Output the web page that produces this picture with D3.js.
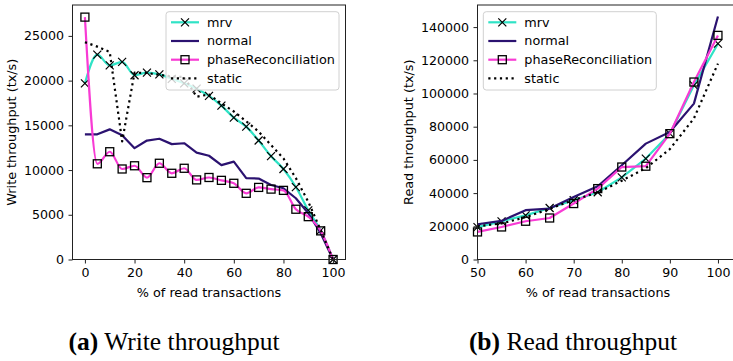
<!DOCTYPE html>
<html>
<head>
<meta charset="utf-8">
<script src="https://cdn.jsdelivr.net/npm/d3@7"></script>
<style>
  html, body { margin: 0; padding: 0; background: #fff; }
  svg { display: block; }
  .tick text { font-family: "DejaVu Sans", sans-serif; font-size: 12.6px; fill: #000; }
</style>
</head>
<body>
<svg id="chart" width="733" height="361"></svg>
<script>
// ---------- data ----------
const seriesNames = ["mrv", "normal", "phaseReconciliation", "static"];

const writeX = [0,5,10,15,20,25,30,35,40,45,50,55,60,65,70,75,80,85,90,95,100];
const writeMrv = [19700,22900,21700,22100,20600,20900,20700,20200,19700,19100,18300,17200,15860,14850,13300,11550,10120,8100,5500,3250,0];
const writeNormal = [14000,14000,14550,13900,12450,13300,13500,12900,13000,11950,11600,10550,10940,9100,9050,8330,7960,6850,5170,2930,0];
const writePhase = [27100,10700,12050,10120,10480,9150,10760,9640,10200,8900,9170,8850,8520,7400,8060,7870,7730,5620,4790,3200,0];
const writeStatic = [24300,23800,23200,13200,20900,20850,20650,20450,20400,18200,18450,17450,16550,15450,14300,12800,11300,9100,6450,3300,0];

const readX = [50,55,60,65,70,75,80,85,90,95,100];
const readMrv = [19500,23000,26600,31000,35700,40500,49500,60800,75800,104900,130000];
const readNormal = [21250,23250,29700,30700,37700,44100,56800,69800,76800,93900,146400];
const readPhase = [16600,19600,23050,25000,33700,42700,55700,56200,75800,106900,135000];
const readStatic = [20000,21700,25500,30500,35900,40300,47500,55000,66500,85000,118000];

const writeTicksX = [0,20,40,60,80,100];
const writeTicksY = [0,5000,10000,15000,20000,25000];
const readTicksX = [50,60,70,80,90,100];
const readTicksY = [0,20000,40000,60000,80000,100000,120000,140000];

const xLabel = "% of read transactions";
const captions = [["(a)", " Write throughput"], ["(b)", " Read throughput"]];

// ---------- styles ----------
const colors = { mrv: "#2fe3c6", normal: "#2b1270", phaseReconciliation: "#f83bd4", static: "#000000" };
const FONT = "DejaVu Sans, sans-serif";
const FS = 12.8;

const svg = d3.select("#chart");
svg.append("rect").attr("width", 733).attr("height", 361).attr("fill", "#fff");

function xMarker(g, x, y) {
  const s = 4;
  g.append("path")
    .attr("d", `M${x - s},${y - s}L${x + s},${y + s}M${x - s},${y + s}L${x + s},${y - s}`)
    .attr("stroke", "#000").attr("stroke-width", 1.2).attr("fill", "none");
}
function sqMarker(g, x, y) {
  const s = 4;
  g.append("rect").attr("x", x - s).attr("y", y - s).attr("width", 2 * s).attr("height", 2 * s)
    .attr("fill", "none").attr("stroke", "#000").attr("stroke-width", 1.3);
}

function panel(opts) {
  const { xs, series, xDomain, xRange, yDomain, yRange, xTicks, yTicks, yLabel, yLabelX, xLabelX, legendX, smooth } = opts;
  const x = d3.scaleLinear().domain(xDomain).range(xRange);
  const y = d3.scaleLinear().domain(yDomain).range(yRange);
  const g = svg.append("g");

  series.forEach(s => {
    const line = d3.line()
      .x((d, i) => x(xs[i]))
      .y(d => y(d))
      .curve(smooth && s.smooth ? d3.curveMonotoneX : d3.curveLinear);
    const p = g.append("path").datum(s.values)
      .attr("d", line)
      .attr("fill", "none")
      .attr("stroke", colors[s.name])
      .attr("stroke-width", 2.2)
      .attr("stroke-linejoin", "round");
    if (s.name === "static") p.attr("stroke-dasharray", "2.2,3.6");
    if (s.marker === "x") s.values.forEach((v, i) => xMarker(g, x(xs[i]), y(v)));
    if (s.marker === "sq") s.values.forEach((v, i) => sqMarker(g, x(xs[i]), y(v)));
  });

  const x0 = xRange[0], x1 = xRange[1], y0 = yRange[1], y1 = yRange[0];
  g.append("rect").attr("x", x0).attr("y", y0).attr("width", x1 - x0).attr("height", y1 - y0)
    .attr("fill", "none").attr("stroke", "#222").attr("stroke-width", 1);

  const ax = g.append("g").attr("transform", `translate(0,${y1})`)
    .call(d3.axisBottom(x).tickValues(xTicks).tickSize(4).tickPadding(4.5).tickFormat(d3.format("d")));
  const ay = g.append("g").attr("transform", `translate(${x0},0)`)
    .call(d3.axisLeft(y).tickValues(yTicks).tickSize(4).tickPadding(4.5).tickFormat(d3.format("d")));
  [ax, ay].forEach(a => {
    a.select(".domain").remove();
    a.selectAll(".tick line").attr("stroke", "#222");
  });

  g.append("text").attr("x", xLabelX).attr("y", 296.5)
    .attr("text-anchor", "middle").attr("font-family", FONT).attr("font-size", FS)
    .text(xLabel);
  g.append("text").attr("transform", `translate(${yLabelX},${(y0 + y1) / 2}) rotate(-90)`)
    .attr("text-anchor", "middle").attr("dominant-baseline", "central")
    .attr("font-family", FONT).attr("font-size", FS).text(yLabel);

  const lg = g.append("g").attr("transform", `translate(${legendX},11.7)`);
  lg.append("rect").attr("width", 173).attr("height", 78.3).attr("rx", 3)
    .attr("fill", "#fff").attr("fill-opacity", 0.8).attr("stroke", "#d0d0d0").attr("stroke-width", 1);
  series.forEach((s, i) => {
    const yy = 10.6 + i * 18.7;
    const l = lg.append("line").attr("x1", 5).attr("x2", 33).attr("y1", yy).attr("y2", yy)
      .attr("stroke", colors[s.name]).attr("stroke-width", 2.2);
    if (s.name === "static") l.attr("stroke-dasharray", "2.2,3.6");
    if (s.marker === "x") xMarker(lg, 19, yy);
    if (s.marker === "sq") sqMarker(lg, 19, yy);
    lg.append("text").attr("x", 41).attr("y", yy).attr("dominant-baseline", "central")
      .attr("font-family", FONT).attr("font-size", FS).text(s.name);
  });
  return g;
}

panel({
  xs: writeX,
  series: [
    { name: "mrv", values: writeMrv, marker: "x", smooth: true },
    { name: "normal", values: writeNormal, marker: null, smooth: false },
    { name: "phaseReconciliation", values: writePhase, marker: "sq", smooth: true },
    { name: "static", values: writeStatic, marker: null, smooth: false }
  ],
  xDomain: [-5, 105], xRange: [72.5, 345.5],
  yDomain: [0, 28455], yRange: [259.5, 5],
  xTicks: writeTicksX, yTicks: writeTicksY,
  yLabel: "Write throughput (tx/s)", yLabelX: 11, xLabelX: 209,
  legendX: 166, smooth: true
});

panel({
  xs: readX,
  series: [
    { name: "mrv", values: readMrv, marker: "x" },
    { name: "normal", values: readNormal, marker: null },
    { name: "phaseReconciliation", values: readPhase, marker: "sq" },
    { name: "static", values: readStatic, marker: null }
  ],
  xDomain: [50, 105], xRange: [477.5, 742],
  yDomain: [0, 153300], yRange: [259.5, 5],
  xTicks: readTicksX, yTicks: readTicksY,
  yLabel: "Read throughput (tx/s)", yLabelX: 408, xLabelX: 598,
  legendX: 483.3, smooth: false
});

const capX = [174, 573];
captions.forEach((c, i) => {
  const t = svg.append("text").attr("x", capX[i]).attr("y", 349.5).attr("text-anchor", "middle")
    .attr("font-family", "Liberation Serif, serif").attr("font-size", 25.5);
  t.append("tspan").attr("font-weight", "bold").text(c[0]);
  t.append("tspan").text(c[1]);
});
</script>
</body>
</html>
